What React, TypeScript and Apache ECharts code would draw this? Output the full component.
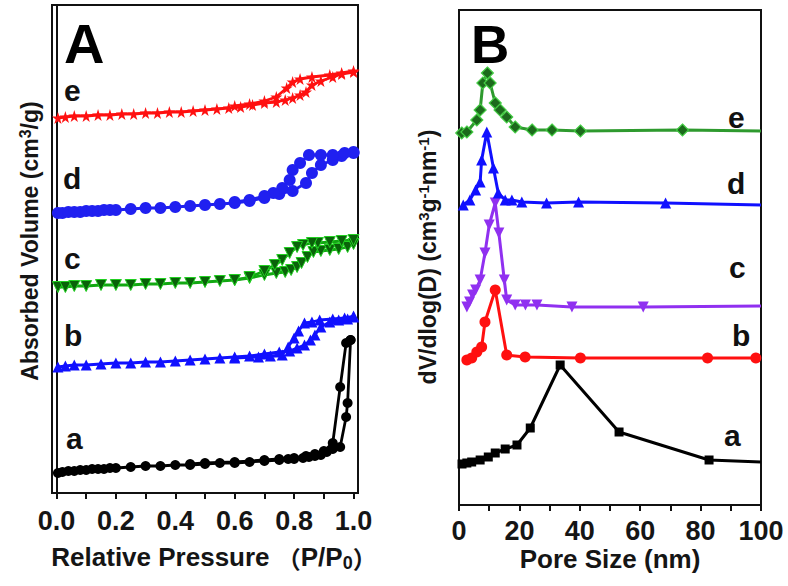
import React, { useEffect, useRef } from "react";
import * as echarts from "echarts";

// ---------- Panel A: N2 isotherms (P/P0, offset volume) ----------
const aAdsP = [0.005, 0.02, 0.04, 0.06, 0.08, 0.1, 0.12, 0.14, 0.16, 0.18, 0.2, 0.25, 0.3, 0.35, 0.4, 0.45, 0.5, 0.55, 0.6, 0.65, 0.7, 0.75, 0.78, 0.8, 0.83, 0.85, 0.87, 0.89, 0.91, 0.93, 0.955, 0.975, 0.98, 0.99];
const aAdsV = [20, 21, 22, 22, 23, 23, 24, 24, 24, 25, 25, 26, 27, 27, 28, 28, 29, 30, 30, 31, 32, 33, 34, 34, 35, 36, 37, 38, 41, 44, 46, 76, 90, 153];
const aDesP = [0.99, 0.975, 0.955, 0.93, 0.9, 0.87, 0.84, 0.8, 0.75, 0.7, 0.6, 0.5, 0.45];
const aDesV = [153, 150, 106, 50, 42, 39, 37, 35, 34, 33, 31, 30, 29];

const bAdsP = [0.005, 0.03, 0.06, 0.1, 0.15, 0.2, 0.25, 0.3, 0.35, 0.4, 0.45, 0.5, 0.55, 0.6, 0.65, 0.7, 0.75, 0.785, 0.81, 0.835, 0.855, 0.87, 0.89, 0.92, 0.95, 0.98, 1.0];
const bAdsV = [126, 127, 128, 128, 129, 130, 130, 131, 131, 132, 133, 134, 135, 136, 137, 139, 141, 142, 145, 148, 153, 158, 166, 171, 173, 174, 176];
const bDesP = [1.0, 0.97, 0.93, 0.886, 0.86, 0.835, 0.815, 0.8, 0.78, 0.76, 0.72, 0.68, 0.6];
const bDesV = [177, 175, 174, 173, 171, 170, 162, 155, 146, 138, 137, 136, 135];

const cAdsP = [0.005, 0.03, 0.06, 0.1, 0.15, 0.2, 0.25, 0.3, 0.35, 0.4, 0.45, 0.5, 0.55, 0.6, 0.65, 0.7, 0.74, 0.77, 0.79, 0.81, 0.825, 0.845, 0.865, 0.89, 0.92, 0.95, 0.98, 1.0];
const cAdsV = [206, 206, 207, 207, 208, 208, 208, 209, 209, 210, 210, 211, 212, 213, 215, 218, 220, 221, 223, 226, 230, 236, 241, 242, 243, 244, 246, 249];
const cDesP = [1.0, 0.96, 0.92, 0.88, 0.86, 0.83, 0.81, 0.785, 0.76, 0.735, 0.7, 0.65, 0.6];
const cDesV = [253, 252, 251, 250, 250, 248, 246, 240, 233, 228, 222, 216, 213];

const dAdsP = [0.005, 0.02, 0.04, 0.06, 0.08, 0.1, 0.12, 0.14, 0.16, 0.18, 0.2, 0.25, 0.3, 0.35, 0.4, 0.45, 0.5, 0.55, 0.6, 0.65, 0.7, 0.75, 0.795, 0.84, 0.86, 0.89, 0.93, 0.96, 1.0];
const dAdsV = [280, 280, 281, 281, 281, 282, 282, 282, 283, 283, 283, 284, 285, 285, 286, 287, 288, 289, 290, 292, 295, 299, 302, 310, 320, 328, 333, 337, 340];
const dDesP = [1.0, 0.97, 0.93, 0.89, 0.85, 0.82, 0.795, 0.785, 0.76, 0.73, 0.7, 0.65, 0.6];
const dDesV = [341, 340, 338, 338, 338, 330, 323, 313, 305, 300, 297, 293, 291];

const eAdsP = [0.005, 0.03, 0.06, 0.1, 0.14, 0.18, 0.22, 0.26, 0.3, 0.34, 0.38, 0.42, 0.46, 0.5, 0.54, 0.58, 0.62, 0.66, 0.7, 0.74, 0.77, 0.795, 0.82, 0.84, 0.86, 0.89, 0.93, 0.96, 1.0];
const eAdsV = [375, 376, 377, 377, 378, 378, 379, 379, 380, 380, 381, 381, 382, 383, 384, 385, 386, 388, 390, 391, 393, 395, 398, 401, 408, 412, 416, 419, 421];
const eDesP = [1.0, 0.96, 0.92, 0.86, 0.82, 0.795, 0.775, 0.74, 0.7, 0.65, 0.6];
const eDesV = [422, 420, 418, 416, 414, 411, 405, 396, 392, 389, 387];

const aTicks = [0, 0.1, 0.2, 0.3, 0.4, 0.5, 0.6, 0.7, 0.8, 0.9, 1.0];
const aLabels = [0, 0.2, 0.4, 0.6, 0.8, 1.0];

// ---------- Panel B: pore size distribution (nm, offset dV/dlogD) ----------
const paD = [1, 2.6, 4.2, 7.0, 9.7, 12, 15.3, 19.2, 23.6, 33.5, 53, 82.8, 100];
const paV = [41, 42, 43, 45, 48, 52, 56, 60, 77, 140, 73, 45, 43];
const pbD = [2.6, 4.2, 5.9, 7.5, 8.6, 12, 15.8, 21.9, 40.2, 82.3, 98.3];
const pbV = [145, 147, 153, 158, 183, 215, 150, 148, 147, 147, 147];
const pcD = [2.6, 3.5, 4.5, 5.5, 7, 8.6, 10, 12, 13.2, 15, 15.8, 18.6, 22, 25.8, 37.4, 61, 100];
const pcV = [198, 203, 210, 215, 225, 252, 280, 302, 272, 225, 205, 200, 200, 200, 198, 198, 199];
const pdD = [1.4, 3.6, 5.5, 7, 7.5, 9.2, 11.4, 13, 15.3, 17.5, 20.8, 29, 39.6, 68.4, 100];
const pdV = [300, 305, 315, 323, 345, 373, 337, 312, 305, 305, 303, 302, 303, 302, 300];
const peD = [0.9, 2.6, 5.9, 7, 7.9, 9.4, 10.3, 12, 13.6, 15.8, 18.6, 24.2, 30.8, 40.2, 74, 100];
const peV = [372, 373, 385, 395, 422, 432, 422, 402, 395, 388, 378, 375, 375, 374, 375, 374];

const bTicks = [0, 10, 20, 30, 40, 50, 60, 70, 80, 90, 100];
const bLabels = [0, 20, 40, 60, 80, 100];

const STAR = "path://M50,0 L61,35 L98,35 L68,57 L79,91 L50,70 L21,91 L32,57 L2,35 L39,35 Z";
const FONT = "'Liberation Sans', Arial, Helvetica, sans-serif";

function zip(xs: number[], ys: number[], tailNoSymbolAt?: number) {
  return xs.map((x, i) =>
    tailNoSymbolAt !== undefined && x === tailNoSymbolAt
      ? { value: [x, ys[i]], symbol: "none" }
      : [x, ys[i]]
  );
}

export default function App() {
  const ref = useRef<HTMLDivElement>(null);
  useEffect(() => {
    if (!ref.current) return;
    const chart = echarts.init(ref.current, undefined, { renderer: "svg" });

    const lineA = (
      name: string,
      data: any[],
      color: string,
      symbol: string,
      size: number,
      extra: any = {}
    ) => ({
      name,
      type: "line",
      xAxisIndex: 0,
      yAxisIndex: 0,
      data,
      symbol,
      symbolSize: size,
      clip: false,
      lineStyle: { color: extra.lineColor || color, width: extra.lineWidth || 2.8 },
      itemStyle: {
        color: extra.fill || color,
        borderColor: extra.border || color,
        borderWidth: extra.borderWidth || 0,
      },
      symbolRotate: extra.rotate || 0,
      z: 3,
    });
    const lineB = (
      name: string,
      data: any[],
      color: string,
      symbol: string,
      size: number,
      extra: any = {}
    ) => ({
      ...lineA(name, data, color, symbol, size, extra),
      xAxisIndex: 1,
      yAxisIndex: 1,
      lineStyle: { color: extra.lineColor || color, width: extra.lineWidth || 3 },
    });

    const green = { fill: "#0A620A", border: "#22D022", borderWidth: 1, lineColor: "#12A812" };
    const dgreen = { fill: "#1C6A1C", border: "#44CC44", borderWidth: 1.2, lineColor: "#2E9A2E" };

    const tickLabel = {
      fontFamily: FONT,
      fontWeight: "bold",
      fontSize: 27,
      color: "#151515",
    };

    chart.setOption({
      animation: false,
      backgroundColor: "#ffffff",
      grid: [
        { left: 52, top: 5, width: 306, height: 488, show: true, borderColor: "#111", borderWidth: 2, backgroundColor: "transparent" },
        { left: 459, top: 10, width: 302, height: 495, show: true, borderColor: "#111", borderWidth: 2, backgroundColor: "transparent" },
      ],
      xAxis: [
        {
          gridIndex: 0,
          type: "value",
          min: -0.015,
          max: 1.015,
          axisLine: { show: true, lineStyle: { color: "#111", width: 2 } },
          axisTick: { show: true, customValues: aTicks, length: 6, inside: false, lineStyle: { color: "#111", width: 2 } },
          axisLabel: { show: true, customValues: aLabels, formatter: (v: number) => v.toFixed(1), margin: 14, ...tickLabel },
          splitLine: { show: false },
        },
        {
          gridIndex: 1,
          type: "value",
          min: 0,
          max: 100,
          axisLine: { show: true, lineStyle: { color: "#111", width: 2 } },
          axisTick: { show: true, customValues: bTicks, length: 6, inside: false, lineStyle: { color: "#111", width: 2 } },
          axisLabel: { show: true, customValues: bLabels, formatter: (v: number) => String(Math.round(v)), margin: 12, ...tickLabel },
          splitLine: { show: false },
        },
      ],
      yAxis: [
        {
          gridIndex: 0,
          type: "value",
          min: 0,
          max: 488,
          axisLine: { show: true, lineStyle: { color: "#111", width: 2 } },
          axisTick: { show: false },
          axisLabel: { show: false },
          splitLine: { show: false },
        },
        {
          gridIndex: 1,
          type: "value",
          min: 0,
          max: 495,
          axisLine: { show: true, lineStyle: { color: "#111", width: 2 } },
          axisTick: { show: false },
          axisLabel: { show: false },
          splitLine: { show: false },
        },
      ],
      series: [
        lineA("a-ads", zip(aAdsP, aAdsV), "#000000", "circle", 10),
        lineA("a-des", zip(aDesP, aDesV), "#000000", "circle", 10),
        lineA("b-ads", zip(bAdsP, bAdsV), "#1010FF", "triangle", 11),
        lineA("b-des", zip(bDesP, bDesV), "#1010FF", "triangle", 11),
        lineA("c-ads", zip(cAdsP, cAdsV), "#10A010", "triangle", 11, { ...green, rotate: 180 }),
        lineA("c-des", zip(cDesP, cDesV), "#10A010", "triangle", 11, { ...green, rotate: 180 }),
        lineA("d-ads", zip(dAdsP, dAdsV), "#2020F0", "circle", 12),
        lineA("d-des", zip(dDesP, dDesV), "#2020F0", "circle", 12),
        lineA("e-ads", zip(eAdsP, eAdsV), "#FF1010", STAR, 12),
        lineA("e-des", zip(eDesP, eDesV), "#FF1010", STAR, 12),

        lineB("pa", zip(paD, paV, 100), "#000000", "rect", 9),
        lineB("pb", zip(pbD, pbV, 100), "#FF1010", "circle", 11),
        lineB("pc", zip(pcD, pcV, 100), "#9030F0", "triangle", 11, { rotate: 180 }),
        lineB("pd", zip(pdD, pdV, 100), "#1010FF", "triangle", 11),
        lineB("pe", zip(peD, peV, 100), "#2E9A2E", "diamond", 12, dgreen),
      ],
      graphic: [
        // panel letters
        { type: "text", x: 64, y: 43, style: { text: "A", fontFamily: FONT, fontWeight: "bold", fontSize: 56, fill: "#000", align: "left", verticalAlign: "middle" } },
        { type: "text", x: 471, y: 44, style: { text: "B", fontFamily: FONT, fontWeight: "bold", fontSize: 53, fill: "#000", align: "left", verticalAlign: "middle" } },
        // sample letters
        ...[
          ["e", 64, 90],
          ["d", 63, 178],
          ["c", 64, 258],
          ["b", 64, 335],
          ["a", 66, 438],
          ["e", 728, 117],
          ["d", 727, 183],
          ["c", 729, 267],
          ["b", 732, 335],
          ["a", 724, 435],
        ].map(([t, x, y]) => ({
          type: "text",
          x: x as number,
          y: y as number,
          style: { text: t as string, fontFamily: FONT, fontWeight: "bold", fontSize: 30, fill: "#111", align: "left", verticalAlign: "middle" },
        })),
        // axis titles
        {
          type: "text",
          x: 214,
          y: 557,
          style: {
            text: "Relative Pressure {cjk|（}P/P{sub|0}{cjk|）}",
            fontFamily: FONT,
            fontWeight: "bold",
            fontSize: 26,
            fill: "#151515",
            align: "center",
            verticalAlign: "middle",
            rich: {
              cjk: { fontFamily: "'Noto Sans CJK SC', sans-serif", fontWeight: "bold", fontSize: 24, fill: "#151515" },
              sub: { fontFamily: FONT, fontWeight: "bold", fontSize: 18, fill: "#151515", verticalAlign: "bottom", padding: [12, 0, 0, 0] },
            },
          },
        },
        {
          type: "text",
          x: 610,
          y: 559,
          style: { text: "Pore Size (nm)", fontFamily: FONT, fontWeight: "bold", fontSize: 26, fill: "#151515", align: "center", verticalAlign: "middle" },
        },
        {
          type: "text",
          x: 30,
          y: 241,
          rotation: Math.PI / 2,
          style: {
            text: "Absorbed Volume (cm{sup|3}/g)",
            fontFamily: FONT,
            fontWeight: "bold",
            fontSize: 23,
            fill: "#151515",
            align: "center",
            verticalAlign: "middle",
            rich: {
              sup: { fontFamily: FONT, fontWeight: "bold", fontSize: 16, fill: "#151515", verticalAlign: "top", padding: [0, 0, 10, 0] },
            },
          },
        },
        {
          type: "text",
          x: 428,
          y: 257,
          rotation: Math.PI / 2,
          style: {
            text: "dV/dlog(D) (cm{sup|3}g{sup|-1}nm{sup|-1})",
            fontFamily: FONT,
            fontWeight: "bold",
            fontSize: 23,
            fill: "#151515",
            align: "center",
            verticalAlign: "middle",
            rich: {
              sup: { fontFamily: FONT, fontWeight: "bold", fontSize: 15, fill: "#151515", verticalAlign: "top", padding: [0, 0, 10, 0] },
            },
          },
        },
      ],
    });

    return () => chart.dispose();
  }, []);

  return <div ref={ref} style={{ width: 788, height: 586, position: "absolute", left: 0, top: 0 }} />;
}
